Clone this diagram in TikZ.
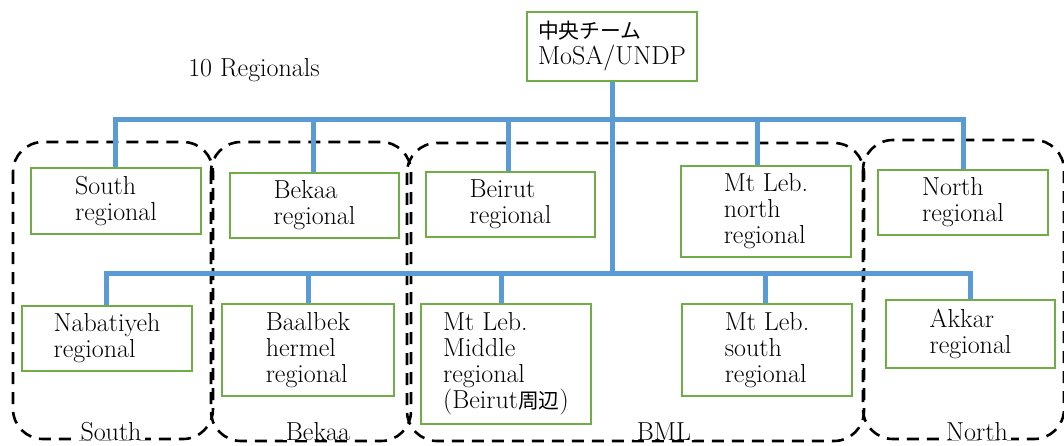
\documentclass[tikz,border=0pt]{standalone}
\usepackage{fontspec}
\newfontfamily\cjk{Noto Sans CJK JP}[Scale=0.8]
\definecolor{linkblue}{RGB}{91,155,213}
\definecolor{boxgreen}{RGB}{112,173,71}
\begin{document}
\begin{tikzpicture}[x=1pt,y=-1pt,
  txt/.style={font=\fontsize{26}{26}\selectfont, text=black},
  unit/.style={txt, draw=boxgreen, line width=1.4pt, align=left, inner sep=0pt, fill=white},
  link/.style={draw=linkblue, line width=5pt, line cap=butt, line join=miter},
  group/.style={draw=black, line width=2.6pt, dash pattern=on 12pt off 8pt, rounded corners=30pt},
  grouplabel/.style={txt, fill=white, inner xsep=3pt, inner ysep=0pt, anchor=base}]
\useasboundingbox (0,0) rectangle (1064,446);

% regional groups
\draw[group] (13,142) rectangle (213,439);
\draw[group] (211,142) rectangle (411,441);
\draw[group] (407,143) rectangle (864,441);
\draw[group] (863,140) rectangle (1064,439);

% junction levels of the two bus bars
\coordinate (bus1) at (612,120);
\coordinate (bus2) at (612,273);

% central team
\node[unit, minimum width=170pt, minimum height=69pt] (top) at (612,46.5)
  {{\cjk 中央チーム}\\MoSA/UNDP};

% first row
\node[unit, minimum width=170pt, minimum height=66pt] (south) at (116,201) {South\\regional};
\node[unit, minimum width=169pt, minimum height=65pt] (bekaa) at (314.5,205.5) {Bekaa\\regional};
\node[unit, minimum width=169pt, minimum height=65pt] (beirut) at (510.5,204.5) {Beirut\\regional};
\node[unit, minimum width=170pt, minimum height=91pt] (mln) at (766,211.5) {Mt Leb.\\north\\regional};
\node[unit, minimum width=170pt, minimum height=65pt] (north) at (963,202.5) {North\\regional};

% second row
\node[unit, minimum width=170pt, minimum height=65pt] (nab) at (107,338.5) {Nabatiyeh\\regional};
\node[unit, minimum width=172pt, minimum height=92pt] (baal) at (308,350) {Baalbek\\hermel\\regional};
\node[unit, minimum width=170pt, minimum height=120pt] (mlm) at (506,364) {Mt Leb.\\Middle\\regional\\(Beirut{\cjk 周辺})};
\node[unit, minimum width=170pt, minimum height=92pt] (mls) at (767,350) {Mt Leb.\\south\\regional};
\node[unit, minimum width=169pt, minimum height=68pt] (akkar) at (970.5,334) {Akkar\\regional};

% connectors
\draw[link] (top.south) -- (bus2);
\draw[link] ([xshift=-1pt]south.north) |- (north.north |- bus1) -- (north.north);
\draw[link] ([xshift=-1.5pt]bekaa.north) -- ([xshift=-1.5pt]bekaa.north |- bus1);
\draw[link] ([xshift=-2.5pt]beirut.north) -- ([xshift=-2.5pt]beirut.north |- bus1);
\draw[link] ([xshift=-9pt]mln.north) -- ([xshift=-9pt]mln.north |- bus1);
\draw[link] ([xshift=-1pt]nab.north) |- ([xshift=-0.5pt]akkar.north |- bus2) -- ([xshift=-0.5pt]akkar.north);
\draw[link] (baal.north) -- (baal.north |- bus2);
\draw[link] ([xshift=-5pt]mlm.north) -- ([xshift=-5pt]mlm.north |- bus2);
\draw[link] ([xshift=-2pt]mls.north) -- ([xshift=-2pt]mls.north |- bus2);

% captions
\node[txt] (count) at (254,70) {10 Regionals};
\node[grouplabel] (lsouth) at (111,440) {South};
\node[grouplabel] (lbekaa) at (318,440) {Bekaa};
\node[grouplabel] (lbml) at (664,440) {BML};
\node[grouplabel] (lnorth) at (977,440) {North};
\end{tikzpicture}
\end{document}
